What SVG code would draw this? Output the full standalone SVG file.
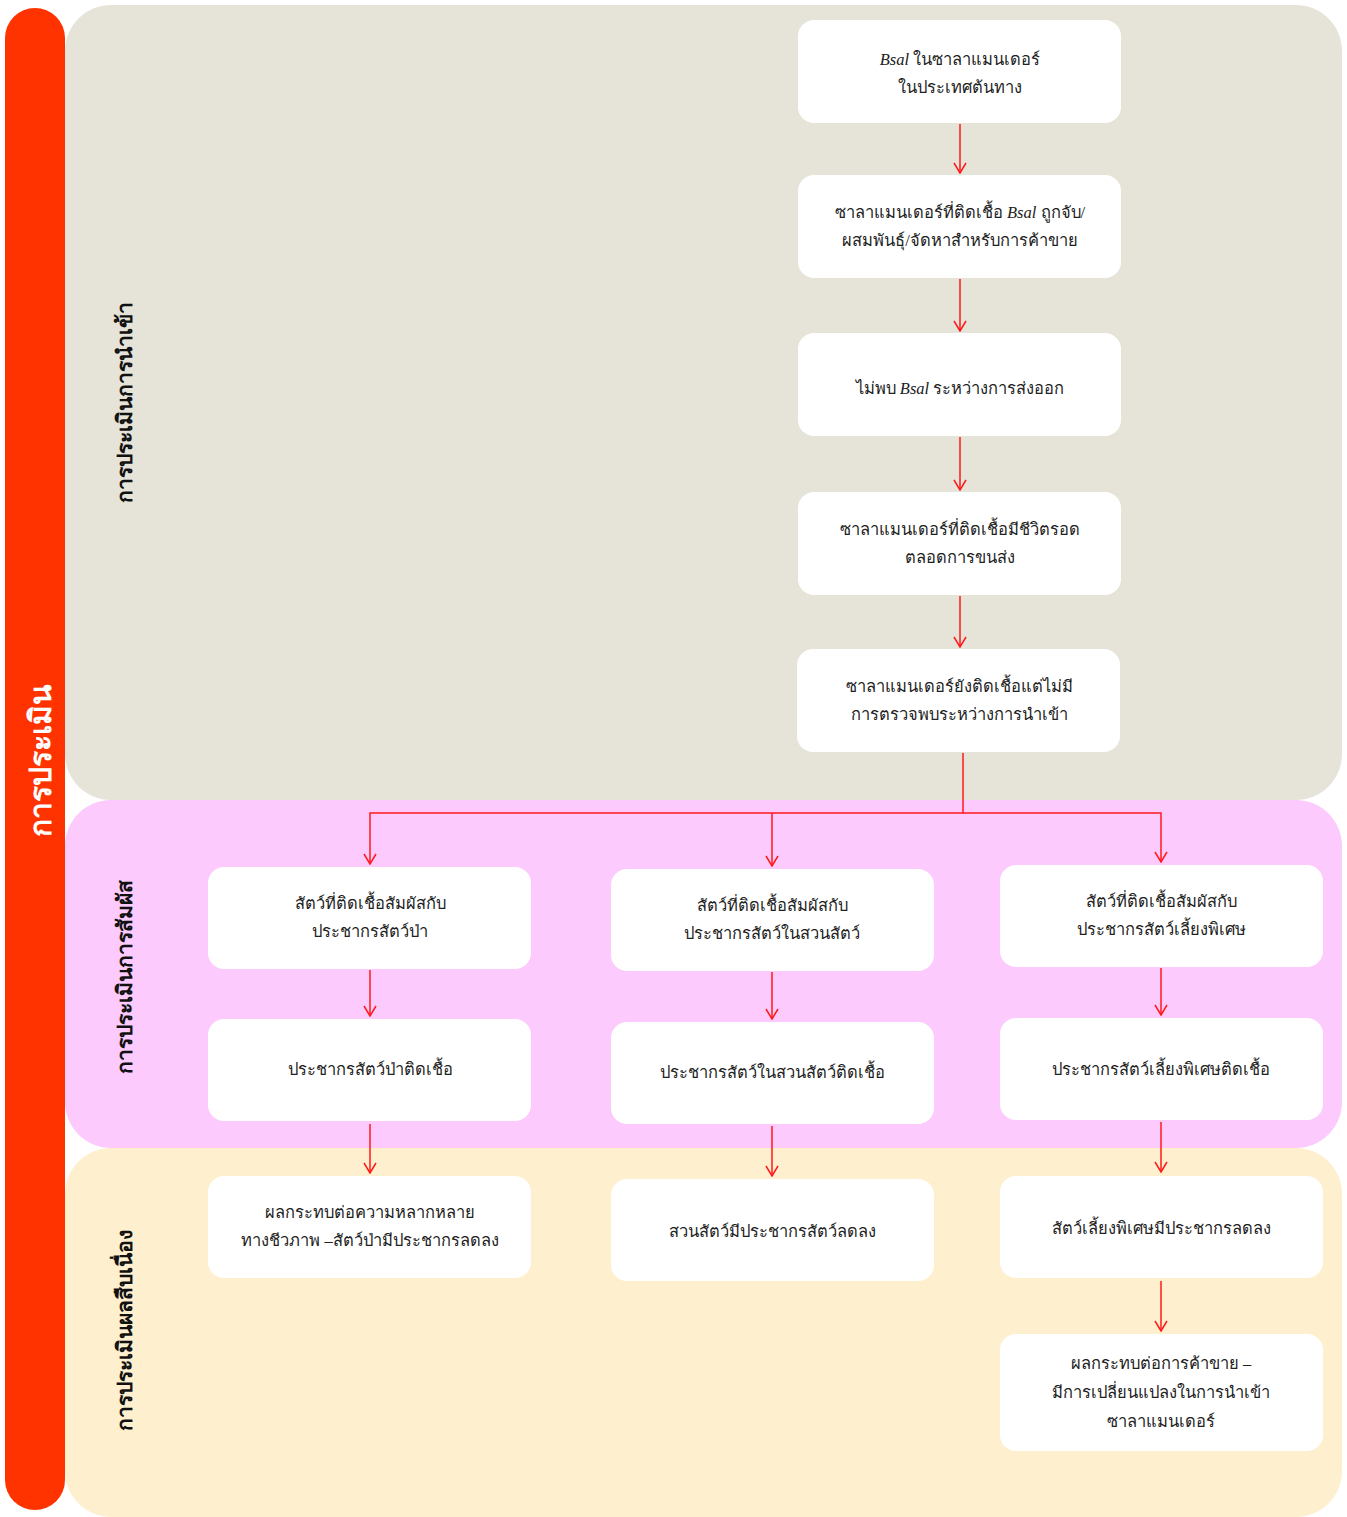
<svg xmlns="http://www.w3.org/2000/svg" width="1347" height="1517" viewBox="0 0 1347 1517">
  <style>
    .node rect { fill: #ffffff; }
    .node text { font-family: "Liberation Serif", "DejaVu Serif", serif; font-size: 16.5px; fill: #222222; text-anchor: middle; }
    .node text .it { font-style: italic; }
    .lane-title { font-family: "Liberation Serif", "DejaVu Serif", serif; font-size: 21px; font-weight: bold; fill: #111111; text-anchor: middle; }
    .bar-title { font-family: "Liberation Serif", "DejaVu Serif", serif; font-size: 30px; font-weight: bold; fill: #ffffff; text-anchor: middle; }
    .conn { fill: none; stroke: #ff1a1a; stroke-width: 1.5; }
  </style>
  <defs>
    <!-- open V arrowhead, drawn along +x so orient="auto" follows the line -->
    <marker id="arrow" viewBox="0 0 12 14" refX="11" refY="7" markerWidth="12" markerHeight="14" markerUnits="userSpaceOnUse" orient="auto">
      <path d="M1,1 L11,7 L1,13" fill="none" stroke="#ff1a1a" stroke-width="1.5"/>
    </marker>
  </defs>

  <rect width="1347" height="1517" fill="#ffffff"/>

  <!-- swimlanes -->
  <g id="lane-import">
    <rect x="65" y="5" width="1277" height="795" rx="46" fill="#e6e3d8"/>
    <text class="lane-title" transform="translate(132,402) rotate(-90)">การประเมินการนำเข้า</text>
  </g>
  <g id="lane-exposure">
    <rect x="65" y="800" width="1277" height="348" rx="46" fill="#fccafc"/>
    <text class="lane-title" transform="translate(132,977) rotate(-90)">การประเมินการสัมผัส</text>
  </g>
  <g id="lane-consequence">
    <rect x="65" y="1148" width="1277" height="369" rx="46" fill="#fef0cf"/>
    <text class="lane-title" transform="translate(132,1330) rotate(-90)">การประเมินผลสืบเนื่อง</text>
  </g>

  <!-- side bar -->
  <g id="assessment-bar">
    <rect x="5" y="8" width="60" height="1502" rx="30" fill="#ff3300"/>
    <text class="bar-title" transform="translate(51,760) rotate(-90)">การประเมิน</text>
  </g>

  <!-- connectors -->
  <g id="connectors">
    <line class="conn" x1="960" y1="124" x2="960" y2="173" marker-end="url(#arrow)"/>
    <line class="conn" x1="960" y1="279" x2="960" y2="331" marker-end="url(#arrow)"/>
    <line class="conn" x1="960" y1="437" x2="960" y2="490" marker-end="url(#arrow)"/>
    <line class="conn" x1="960" y1="596" x2="960" y2="647" marker-end="url(#arrow)"/>
    <polyline class="conn" points="963,753 963,813 370,813 370,864" marker-end="url(#arrow)"/>
    <line class="conn" x1="772" y1="813" x2="772" y2="866" marker-end="url(#arrow)"/>
    <polyline class="conn" points="963,813 1161,813 1161,862" marker-end="url(#arrow)"/>
    <line class="conn" x1="370" y1="970" x2="370" y2="1016" marker-end="url(#arrow)"/>
    <line class="conn" x1="772" y1="972" x2="772" y2="1019" marker-end="url(#arrow)"/>
    <line class="conn" x1="1161" y1="968" x2="1161" y2="1015" marker-end="url(#arrow)"/>
    <line class="conn" x1="370" y1="1124" x2="370" y2="1173" marker-end="url(#arrow)"/>
    <line class="conn" x1="772" y1="1126" x2="772" y2="1176" marker-end="url(#arrow)"/>
    <line class="conn" x1="1161" y1="1122" x2="1161" y2="1172" marker-end="url(#arrow)"/>
    <line class="conn" x1="1161" y1="1281" x2="1161" y2="1331" marker-end="url(#arrow)"/>
  </g>

  <!-- import assessment chain -->
  <g id="n1" class="node">
    <rect x="798" y="20" width="323" height="103" rx="16"/>
    <text x="960" y="65"><tspan class="it">Bsal</tspan> ในซาลาแมนเดอร์</text>
    <text x="960" y="93">ในประเทศต้นทาง</text>
  </g>
  <g id="n2" class="node">
    <rect x="798" y="175" width="323" height="103" rx="16"/>
    <text x="960" y="218">ซาลาแมนเดอร์ที่ติดเชื้อ <tspan class="it">Bsal</tspan> ถูกจับ/</text>
    <text x="960" y="246">ผสมพันธุ์/จัดหาสำหรับการค้าขาย</text>
  </g>
  <g id="n3" class="node">
    <rect x="798" y="333" width="323" height="103" rx="16"/>
    <text x="960" y="394">ไม่พบ <tspan class="it">Bsal</tspan> ระหว่างการส่งออก</text>
  </g>
  <g id="n4" class="node">
    <rect x="798" y="492" width="323" height="103" rx="16"/>
    <text x="960" y="535">ซาลาแมนเดอร์ที่ติดเชื้อมีชีวิตรอด</text>
    <text x="960" y="563">ตลอดการขนส่ง</text>
  </g>
  <g id="n5" class="node">
    <rect x="797" y="649" width="323" height="103" rx="16"/>
    <text x="959" y="692">ซาลาแมนเดอร์ยังติดเชื้อแต่ไม่มี</text>
    <text x="959" y="720">การตรวจพบระหว่างการนำเข้า</text>
  </g>

  <!-- exposure assessment -->
  <g id="a1" class="node">
    <rect x="208" y="867" width="323" height="102" rx="16"/>
    <text x="370" y="909">สัตว์ที่ติดเชื้อสัมผัสกับ</text>
    <text x="370" y="937">ประชากรสัตว์ป่า</text>
  </g>
  <g id="b1" class="node">
    <rect x="611" y="869" width="323" height="102" rx="16"/>
    <text x="772" y="911">สัตว์ที่ติดเชื้อสัมผัสกับ</text>
    <text x="772" y="939">ประชากรสัตว์ในสวนสัตว์</text>
  </g>
  <g id="c1" class="node">
    <rect x="1000" y="865" width="323" height="102" rx="16"/>
    <text x="1161" y="907">สัตว์ที่ติดเชื้อสัมผัสกับ</text>
    <text x="1161" y="935">ประชากรสัตว์เลี้ยงพิเศษ</text>
  </g>
  <g id="a2" class="node">
    <rect x="208" y="1019" width="323" height="102" rx="16"/>
    <text x="370" y="1075">ประชากรสัตว์ป่าติดเชื้อ</text>
  </g>
  <g id="b2" class="node">
    <rect x="611" y="1022" width="323" height="102" rx="16"/>
    <text x="772" y="1078">ประชากรสัตว์ในสวนสัตว์ติดเชื้อ</text>
  </g>
  <g id="c2" class="node">
    <rect x="1000" y="1018" width="323" height="102" rx="16"/>
    <text x="1161" y="1075">ประชากรสัตว์เลี้ยงพิเศษติดเชื้อ</text>
  </g>

  <!-- consequence assessment -->
  <g id="a3" class="node">
    <rect x="208" y="1176" width="323" height="102" rx="16"/>
    <text x="370" y="1218">ผลกระทบต่อความหลากหลาย</text>
    <text x="370" y="1246">ทางชีวภาพ –สัตว์ป่ามีประชากรลดลง</text>
  </g>
  <g id="b3" class="node">
    <rect x="611" y="1179" width="323" height="102" rx="16"/>
    <text x="772" y="1237">สวนสัตว์มีประชากรสัตว์ลดลง</text>
  </g>
  <g id="c3" class="node">
    <rect x="1000" y="1176" width="323" height="102" rx="16"/>
    <text x="1161" y="1234">สัตว์เลี้ยงพิเศษมีประชากรลดลง</text>
  </g>
  <g id="c4" class="node">
    <rect x="1000" y="1334" width="323" height="117" rx="16"/>
    <text x="1161" y="1369">ผลกระทบต่อการค้าขาย –</text>
    <text x="1161" y="1398">มีการเปลี่ยนแปลงในการนำเข้า</text>
    <text x="1161" y="1427">ซาลาแมนเดอร์</text>
  </g>
</svg>
